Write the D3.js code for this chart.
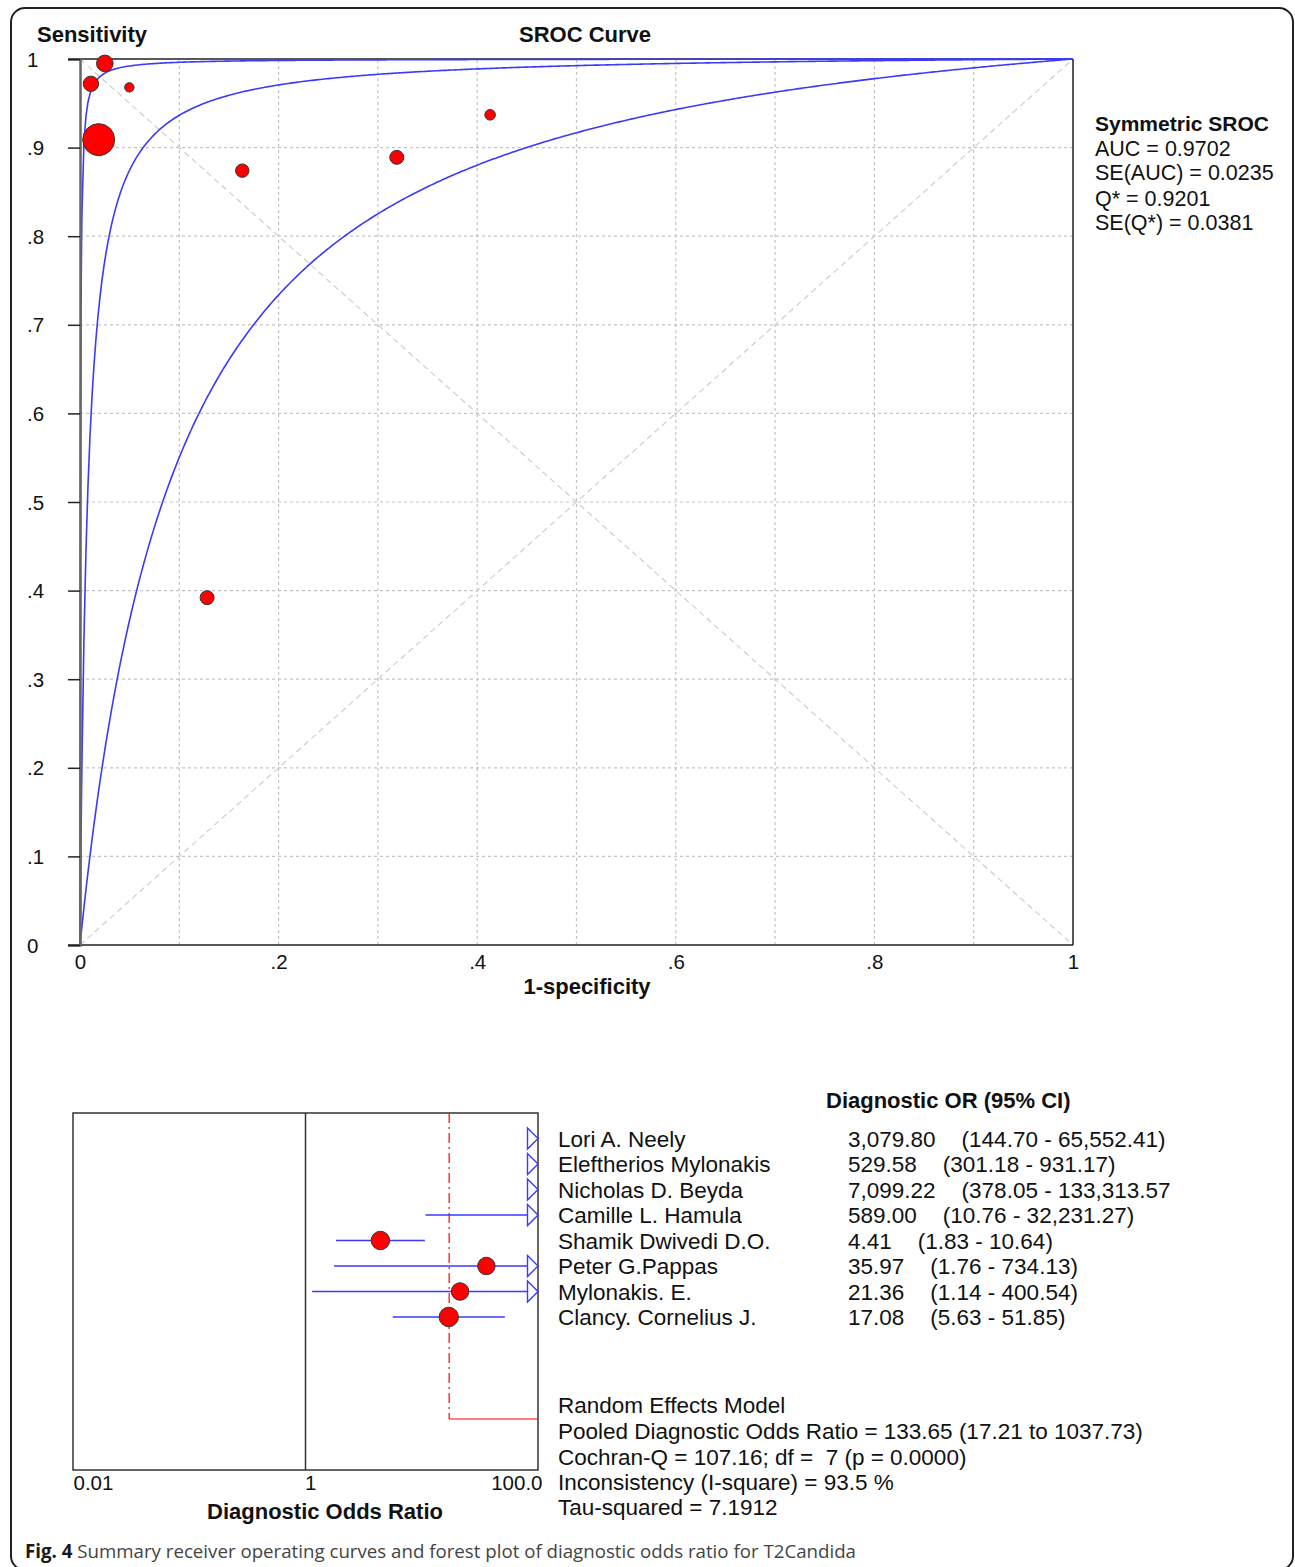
<!DOCTYPE html>
<html><head><meta charset="utf-8">
<script src="https://cdn.jsdelivr.net/npm/d3@7"></script>
<style>body{margin:0;background:#fff} svg{display:block} text{white-space:pre}</style>
</head><body><svg id="c" width="1295" height="1567"></svg>
<script>
// ---------- DATA ----------
const studies = ["Lori A. Neely","Eleftherios Mylonakis","Nicholas D. Beyda","Camille L. Hamula","Shamik Dwivedi D.O.","Peter G.Pappas","Mylonakis. E.","Clancy. Cornelius J."];
// SROC study points (1-specificity, sensitivity) and relative weights (marker area)
const studyFPR  = [0.011, 0.0188, 0.025, 0.0497, 0.128, 0.1634, 0.413, 0.319];
const studySens = [0.972, 0.909, 0.995, 0.968, 0.392, 0.874, 0.937, 0.889];
const srocWeight = [59, 256, 69, 22, 49, 45, 28, 49];
// SROC curves, given by the point where sensitivity = specificity (Q*)
const curveNames = ["lower", "symmetric", "upper"];
const curveQ = [0.7685, 0.9201, 0.980];
const sensTickValues = [0,0.1,0.2,0.3,0.4,0.5,0.6,0.7,0.8,0.9,1];
const sensTickLabels = ["0",".1",".2",".3",".4",".5",".6",".7",".8",".9","1"];
const fprTickValues = [0,0.2,0.4,0.6,0.8,1];
const fprTickLabels = ["0",".2",".4",".6",".8","1"];
const gridValues = [0.1,0.2,0.3,0.4,0.5,0.6,0.7,0.8,0.9];
const legendTitle = "Symmetric SROC";
const legendLines = ["AUC = 0.9702","SE(AUC) = 0.0235","Q* = 0.9201","SE(Q*) = 0.0381"];

// Forest plot
const orValue = [3079.80, 529.58, 7099.22, 589.00, 4.41, 35.97, 21.36, 17.08];
const ciLow   = [144.70, 301.18, 378.05, 10.76, 1.83, 1.76, 1.14, 5.63];
const ciHigh  = [65552.41, 931.17, 133313.57, 32231.27, 10.64, 734.13, 400.54, 51.85];
const orText  = ["3,079.80","529.58","7,099.22","589.00","4.41","35.97","21.36","17.08"];
const ciText  = ["(144.70 - 65,552.41)","(301.18 - 931.17)","(378.05 - 133,313.57","(10.76 - 32,231.27)","(1.83 - 10.64)","(1.76 - 734.13)","(1.14 - 400.54)","(5.63 - 51.85)"];
const forestWeight = [80, 80, 80, 80, 85, 76, 77, 94];
const pooledEst = 133.65, pooledLow = 17.21, pooledHigh = 1037.73;
const forestTickValues = [0.01, 1, 100];
const forestTickLabels = ["0.01", "1", "100.0"];
const summaryLines = ["Random Effects Model","Pooled Diagnostic Odds Ratio = 133.65 (17.21 to 1037.73)","Cochran-Q = 107.16; df =  7 (p = 0.0000)","Inconsistency (I-square) = 93.5 %","Tau-squared = 7.1912"];

// ---------- DRAW ----------
const svg = d3.select("#c");
const FONT = "'Liberation Sans', Arial, Helvetica, sans-serif";
const BLUE = "#3a3aff";

svg.append("rect").attr("x",11).attr("y",8).attr("width",1282).attr("height",1562)
  .attr("rx",14).attr("fill","none").attr("stroke","#222").attr("stroke-width",2);

// SROC scales
const x = d3.scaleLinear().domain([0,1]).range([80,1073]);
const y = d3.scaleLinear().domain([0,1]).range([945,59]);
const g = svg.append("g");

// grid
g.selectAll(".gx").data(gridValues).join("line")
  .attr("x1",d=>x(d)).attr("x2",d=>x(d)).attr("y1",y(0)).attr("y2",y(1))
  .attr("stroke","#c4c4c4").attr("stroke-width",1.2).attr("stroke-dasharray","3,3");
g.selectAll(".gy").data(gridValues).join("line")
  .attr("y1",d=>y(d)).attr("y2",d=>y(d)).attr("x1",x(0)).attr("x2",x(1))
  .attr("stroke","#c4c4c4").attr("stroke-width",1.2).attr("stroke-dasharray","3,3");
// diagonals
g.append("line").attr("x1",x(0)).attr("y1",y(0)).attr("x2",x(1)).attr("y2",y(1))
  .attr("stroke","#cfcfcf").attr("stroke-width",1.2).attr("stroke-dasharray","6,4");
g.append("line").attr("x1",x(0)).attr("y1",y(1)).attr("x2",x(1)).attr("y2",y(0))
  .attr("stroke","#cfcfcf").attr("stroke-width",1.2).attr("stroke-dasharray","6,4");

// frame lines
g.append("line").attr("x1",68).attr("x2",x(1)).attr("y1",y(1)).attr("y2",y(1)).attr("stroke","#222").attr("stroke-width",1.5);
g.append("line").attr("x1",68).attr("x2",x(1)).attr("y1",y(0)).attr("y2",y(0)).attr("stroke","#222").attr("stroke-width",1.5);
g.append("line").attr("x1",x(1)).attr("x2",x(1)).attr("y1",y(1)).attr("y2",y(0)).attr("stroke","#222").attr("stroke-width",1.5);

// y axis
const yAxis = d3.axisLeft(y).tickValues(sensTickValues).tickSize(12)
  .tickFormat((d,i)=>sensTickLabels[i]);
const ya = svg.append("g").attr("transform",`translate(${x(0)},0)`).call(yAxis);
ya.select(".domain").attr("stroke","#666").attr("stroke-width",2.5);
ya.selectAll(".tick line").attr("stroke","#222").attr("stroke-width",1.5);
ya.selectAll(".tick text").attr("text-anchor","start").attr("x",-53).attr("dy","0.35em")
  .attr("font-family",FONT).attr("font-size",20.5).attr("fill","#111");

// x axis
const xAxis = d3.axisBottom(x).tickValues(fprTickValues).tickSize(0)
  .tickFormat((d,i)=>fprTickLabels[i]);
const xa = svg.append("g").attr("transform",`translate(0,${y(0)})`).call(xAxis);
xa.select(".domain").remove();
xa.selectAll(".tick text").attr("y",24).attr("dy",0)
  .attr("font-family",FONT).attr("font-size",20.5).attr("fill","#111");

// curves
const fprSamples = [0].concat(d3.range(-7,-2.7,0.05).map(e=>Math.pow(10,e))).concat(d3.range(0.002,1,0.002)).concat([1]);
const logit = p=>Math.log(p/(1-p));
const curveLine = d3.line().x(d=>x(d[0])).y(d=>y(d[1]));
curveQ.forEach((q,i)=>{
  const D = 2*logit(q);
  const pts = fprSamples.map(f=>{
    if (f<=0) return [0,0];
    if (f>=1) return [1,1];
    return [f, 1/(1+Math.exp(-(D+logit(f))))];
  });
  g.append("path").datum(pts).attr("class","curve-"+curveNames[i]).attr("d",curveLine)
    .attr("fill","none").attr("stroke",BLUE).attr("stroke-width",1.6);
});

// points
const rS = d3.scaleSqrt().domain([0,256]).range([0,16]);
g.selectAll(".pt").data(studies).join("circle")
  .attr("cx",(d,i)=>x(studyFPR[i])).attr("cy",(d,i)=>y(studySens[i]))
  .attr("r",(d,i)=>rS(srocWeight[i]))
  .attr("fill","#ff0000").attr("stroke","#333").attr("stroke-width",1);

// titles
const T = (txt,xx,yy,opts={})=>svg.append("text").attr("x",xx).attr("y",yy).text(txt)
  .attr("font-family",opts.family||FONT).attr("font-size",opts.size||22.5)
  .attr("font-weight",opts.bold?"bold":"normal").attr("text-anchor",opts.anchor||"start")
  .attr("fill",opts.fill||"#111");
T("Sensitivity",37,42,{bold:true,size:22});
T("SROC Curve",585,42,{bold:true,anchor:"middle",size:22});
T("1-specificity",587,994,{bold:true,anchor:"middle",size:22});

// legend
T(legendTitle,1095,131,{bold:true,size:21});
legendLines.forEach((s,i)=>T(s,1095,[156,180,206,230][i],{size:21.5}));

// ---------- Forest plot ----------
const xF = d3.scaleLog().domain([0.01,100]).range([73,538]);
const rowY = d3.scaleLinear().domain([0,7]).range([1138.5,1317]);
const fTop = 1113, fBottom = 1470;
const fg = svg.append("g");
fg.append("rect").attr("x",xF(0.01)).attr("y",fTop).attr("width",xF(100)-xF(0.01)).attr("height",fBottom-fTop)
  .attr("fill","none").attr("stroke","#333").attr("stroke-width",1.5);
fg.append("line").attr("x1",xF(1)).attr("x2",xF(1)).attr("y1",fTop).attr("y2",fBottom).attr("stroke","#333").attr("stroke-width",1.5);

// pooled marker lines
const pooledRow = 11;
fg.append("line").attr("x1",xF(pooledLow)).attr("x2",xF(pooledLow)).attr("y1",fTop).attr("y2",rowY(pooledRow))
  .attr("stroke","#ff0000").attr("stroke-width",1.2).attr("stroke-dasharray","10,4,2,4");
fg.append("line").attr("x1",xF(pooledLow)).attr("x2",xF(Math.min(pooledHigh,100))).attr("y1",rowY(pooledRow)).attr("y2",rowY(pooledRow))
  .attr("stroke","#ff0000").attr("stroke-width",1.2);

const xMax = xF(100);
studies.forEach((s,i)=>{
  const yy = rowY(i);
  if (ciLow[i] < 100) {
    fg.append("line").attr("x1",xF(Math.max(ciLow[i],0.01))).attr("x2",ciHigh[i]>100?xMax:xF(ciHigh[i]))
      .attr("y1",yy).attr("y2",yy).attr("stroke",BLUE).attr("stroke-width",1.6);
  }
  if (ciHigh[i] > 100) {
    fg.append("path").attr("d",`M${xMax-10.5},${yy-10.5}L${xMax},${yy}L${xMax-10.5},${yy+10.5}Z`)
      .attr("fill","#fff").attr("stroke",BLUE).attr("stroke-width",1.4);
  }
});
const rF = d3.scaleSqrt().domain([0,100]).range([0,10]);
fg.selectAll(".fp").data(studies.filter((s,i)=>orValue[i]<100)).join("circle")
  .attr("cx",d=>xF(orValue[studies.indexOf(d)])).attr("cy",d=>rowY(studies.indexOf(d)))
  .attr("r",d=>rF(forestWeight[studies.indexOf(d)]))
  .attr("fill","#ff0000").attr("stroke","#333").attr("stroke-width",1);

// forest axis labels
const fAxis = d3.axisBottom(xF).tickValues(forestTickValues).tickSize(0).tickFormat((d,i)=>forestTickLabels[i]);
const fa = svg.append("g").attr("transform",`translate(0,${fBottom})`).call(fAxis);
fa.select(".domain").remove();
fa.selectAll(".tick text").attr("y",20).attr("dy",0)
  .attr("font-family",FONT).attr("font-size",20.5).attr("fill","#111")
  .attr("text-anchor",(d,i)=>i===2?"end":"start")
  .attr("x",(d,i)=>i===2?4:(i===1?-1:0));
T("Diagnostic Odds Ratio",325,1519,{bold:true,anchor:"middle",size:22});

// table text
T("Diagnostic OR (95% CI)",826,1108,{bold:true,size:22});
studies.forEach((s,i)=>{
  const yy = rowY(i)+8;
  T(s,558,yy);
  const t = T("",848,yy);
  t.append("tspan").text(orText[i]);
  t.append("tspan").attr("dx",26).text(ciText[i]);
});
summaryLines.forEach((s,i)=>T(s,558,[1413,1439,1465,1490,1515][i]));

// caption
const cap = svg.append("text").attr("x",25).attr("y",1558)
  .attr("font-family","'Open Sans', 'Noto Sans', sans-serif").attr("font-size",18.7);
cap.append("tspan").attr("font-weight","bold").attr("fill","#1a1a1a").text("Fig. 4");
cap.append("tspan").attr("fill","#444").text(" Summary receiver operating curves and forest plot of diagnostic odds ratio for T2Candida");
</script></body></html>
